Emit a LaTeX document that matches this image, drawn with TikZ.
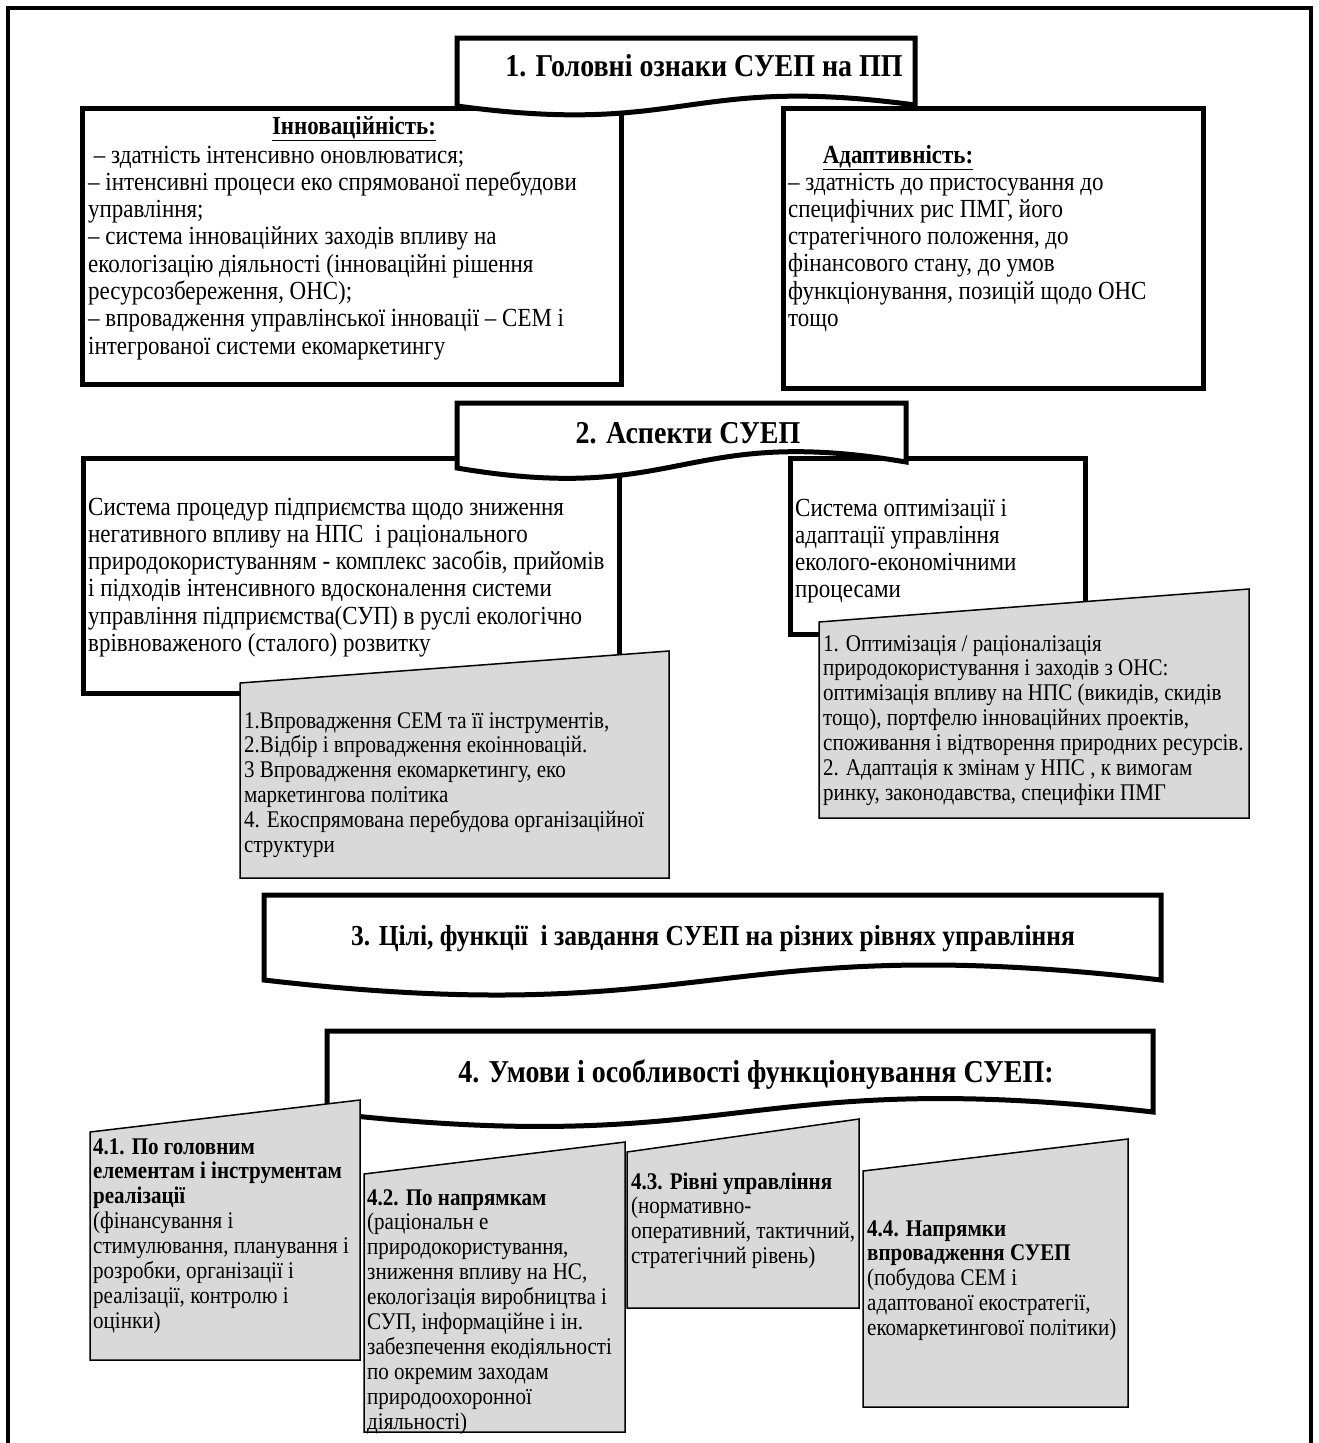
\documentclass[tikz,border=0pt]{standalone}
\usepackage{fontspec}
% narrow serif face
\setmainfont{Liberation Serif}[FakeStretch=0.88]
\definecolor{boxgray}{HTML}{D9D9D9}
% stacked lines of a text block at a fixed line pitch;
% the first line's baseline is the node's base
\newcommand\rows[1]{\vtop{\hsize=2000pt\parindent=0pt\parskip=0pt
  \lineskiplimit=-\maxdimen\let\\\par\leavevmode#1\par}}
% ribbon with a straight top and a wavy bottom:
% #1 left x, #2 right x, #3 top y, #4 bottom-left y, #5 bottom-right y, #6 wave depth
\newcommand\ribbon[6]{%
  \filldraw[titleline] (#2,#3) -- (#2,#5)
    .. controls ({(#1+#2)/2},{#5-#6}) and ({(#1+#2)/2},{#4+#6}) .. (#1,#4)
    -- (#1,#3) -- cycle;}
\begin{document}
\begin{tikzpicture}[x=1pt,y=-1pt,
  frameline/.style={line width=4pt},
  titleline/.style={draw=black,fill=white,line width=5pt,line join=miter},
  whitebox/.style={draw=black,fill=white,line width=5pt},
  graybox/.style={draw=black,fill=boxgray,line width=1.5pt},
  titletext/.style={anchor=base,inner sep=0pt,font=\fontsize{31.8}{36}\selectfont\bfseries},
  headtext/.style={anchor=base,inner sep=0pt,font=\fontsize{26.1}{27.3}\selectfont\bfseries},
  bigtext/.style={anchor=base west,inner sep=0pt,font=\fontsize{26.1}{27.3}\selectfont},
  smalltext/.style={anchor=base west,inner sep=0pt,font=\fontsize{23.9}{24.9}\selectfont}]

\useasboundingbox (0,0) rectangle (1318,1443);
\fill[white] (0,0) rectangle (1318,1443);

% outer frame, open at the bottom
\draw[frameline] (8,1460) -- (8,8) -- (1311,8) -- (1311,1460);

% ---------- section 1 ----------
\draw[whitebox] (82,108) rectangle (621,384);
\draw[whitebox] (783,108) rectangle (1203,388);
\node[headtext] (innovHead) at (354,134) {\underline{Інноваційність:}};
\node[bigtext] (innovText) at (88,163) {\rows{%
\ – здатність інтенсивно оновлюватися;\\
– інтенсивні процеси еко спрямованої перебудови\\
управління;\\
– система інноваційних заходів впливу на\\
екологізацію діяльності (інноваційні рішення\\
ресурсозбереження, ОНС);\\
– впровадження управлінської інновації – СЕМ і\\
інтегрованої системи екомаркетингу}};
\node[headtext] (adaptHead) at (898,163) {\underline{Адаптивність:}};
\node[bigtext] (adaptText) at (788,190) {\rows{%
– здатність до пристосування до\\
специфічних рис ПМГ, його\\
стратегічного положення, до\\
фінансового стану, до умов\\
функціонування, позицій щодо ОНС\\
тощо}};
\ribbon{457}{915}{38}{106}{105}{31}
\node[titletext] (title1) at (704,76) {1. Головні ознаки СУЕП на ПП};

% ---------- section 2 ----------
\draw[whitebox] (83,458) rectangle (619,693);
\draw[whitebox] (790,458) rectangle (1085,634);
\node[bigtext] (procText) at (88,515) {\rows{%
Система процедур підприємства щодо зниження\\
негативного впливу на НПС\ \ і раціонального\\
природокористуванням - комплекс засобів, прийомів\\
і підходів інтенсивного вдосконалення системи\\
управління підприємства(СУП) в руслі екологічно\\
врівноваженого (сталого) розвитку}};
\node[bigtext] (optText) at (795,516) {\rows{%
Система оптимізації і\\
адаптації управління\\
еколого-економічними\\
процесами}};
\draw[graybox] (240,683) -- (669,651) -- (669,878) -- (240,878) -- cycle;
\node[smalltext] (introText) at (244,728) {\rows{%
1.Впровадження СЕМ та її інструментів,\\
2.Відбір і впровадження екоінновацій.\\
3 Впровадження екомаркетингу, еко\\
маркетингова політика\\
4. Екоспрямована перебудова організаційної\\
структури}};
\draw[graybox] (819,622) -- (1249,589) -- (1249,818) -- (819,818) -- cycle;
\node[smalltext] (optList) at (823,651) {\rows{%
1. Оптимізація / раціоналізація\\
природокористування і заходів з ОНС:\\
оптимізація впливу на НПС (викидів, скидів\\
тощо), портфелю інноваційних проектів,\\
споживання і відтворення природних ресурсів.\\
2. Адаптація к змінам у НПС , к вимогам\\
ринку, законодавства, специфіки ПМГ}};
\ribbon{457}{906}{403}{468}{462}{38}
\node[titletext] (title2) at (688,443) {2. Аспекти СУЕП};

% ---------- section 3 ----------
\ribbon{264}{1161}{895}{980}{980}{52}
\node[titletext,font=\fontsize{29}{34}\selectfont\bfseries] (title3) at (713,945)
  {3. Цілі, функції\ \ і завдання СУЕП на різних рівнях управління};

% ---------- section 4 ----------
\ribbon{327}{1153}{1031}{1113}{1112}{47}
\node[titletext] (title4) at (756,1082) {4. Умови і особливості функціонування СУЕП:};

\draw[graybox] (90,1132) -- (360,1100) -- (360,1360) -- (90,1360) -- cycle;
\node[smalltext] (cond1) at (93,1154) {\rows{%
\textbf{4.1. По головним}\\
\textbf{елементам і інструментам}\\
\textbf{реалізації}\\
(фінансування і\\
стимулювання, планування і\\
розробки, організації і\\
реалізації, контролю і\\
оцінки)}};
\draw[graybox] (364,1174) -- (625,1142) -- (625,1432) -- (364,1432) -- cycle;
\node[smalltext] (cond2) at (367,1205) {\rows{%
\textbf{4.2. По напрямкам}\\
(раціональн е\\
природокористування,\\
зниження впливу на НС,\\
екологізація виробництва і\\
СУП, інформаційне і ін.\\
забезпечення екодіяльності\\
по окремим заходам\\
природоохоронної\\
діяльності)}};
\draw[graybox] (627,1152) -- (859,1119) -- (859,1308) -- (627,1308) -- cycle;
\node[smalltext] (cond3) at (631,1189) {\rows{%
\textbf{4.3. Рівні управління}\\
(нормативно-\\
оперативний, тактичний,\\
стратегічний рівень)}};
\draw[graybox] (863,1171) -- (1128,1139) -- (1128,1407) -- (863,1407) -- cycle;
\node[smalltext] (cond4) at (867,1236) {\rows{%
\textbf{4.4. Напрямки}\\
\textbf{впровадження СУЕП}\\
(побудова СЕМ і\\
адаптованої екостратегії,\\
екомаркетингової політики)}};

\end{tikzpicture}
\end{document}
